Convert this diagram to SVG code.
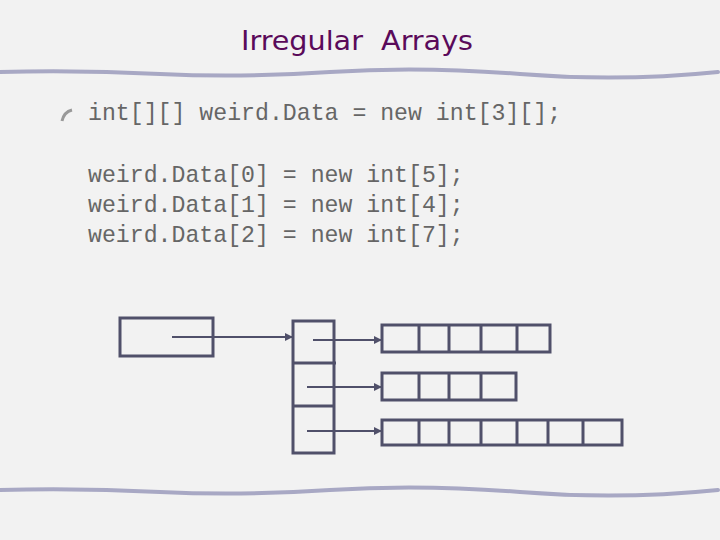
<svg xmlns="http://www.w3.org/2000/svg" width="720" height="540" viewBox="0 0 720 540">
<defs>
<style>
.b{fill:none;stroke:#50506a;stroke-width:3}
.c{stroke:#50506a;stroke-width:2;fill:none}
.code{font-family:"Liberation Mono",monospace;font-size:23.2px;fill:#666}
.rule{fill:none;stroke:#a8a8c4;stroke-width:4;stroke-linecap:round}
</style>
<marker id="a" markerWidth="8" markerHeight="8" refX="7" refY="4" orient="auto" markerUnits="userSpaceOnUse"><path d="M0,0 L8,4 L0,8z" fill="#50506a"/></marker>
</defs>
<rect width="720" height="540" fill="#f2f2f2"/>
<text x="357" y="50" text-anchor="middle" font-family="DejaVu Sans Condensed,DejaVu Sans,sans-serif" font-size="27" fill="#5a0a5a" textLength="232" lengthAdjust="spacingAndGlyphs" xml:space="preserve">Irregular  Arrays</text>
<path class="rule" d="M0,72 Q80,70 160,74 T330,72 T520,74 T718,72"/>
<path class="rule" d="M0,490 Q80,488 160,492 T330,490 T520,492 T718,490"/>
<path d="M62,121 Q64,112 72,110" stroke="#999" stroke-width="3" fill="none"/>
<text class="code" x="88" y="120">int[][] weird.Data = new int[3][];</text>
<text class="code" x="88" y="182">weird.Data[0] = new int[5];</text>
<text class="code" x="88" y="212">weird.Data[1] = new int[4];</text>
<text class="code" x="88" y="242">weird.Data[2] = new int[7];</text>
<g id="ref"><rect class="b" x="120" y="318" width="93" height="38"/></g>
<g id="outer"><rect class="b" x="293" y="321" width="41" height="132"/><path class="b" d="M293,363H336M293,406H334"/></g>
<g id="row0"><rect class="b" x="382" y="325" width="168" height="27"/><path class="b" d="M419,325V352M449,325V352M481,325V352M517,325V352"/></g>
<g id="row1"><rect class="b" x="382" y="373" width="134" height="27"/><path class="b" d="M419,373V400M449,373V400M481,373V400"/></g>
<g id="row2"><rect class="b" x="382" y="420" width="240" height="25"/><path class="b" d="M419,420V445M449,420V445M481,420V445M517,420V445M548,420V445M583,420V445"/></g>
<g id="connectors">
<line class="c" x1="172" y1="337" x2="292" y2="337" marker-end="url(#a)"/>
<line class="c" x1="313" y1="340" x2="381" y2="340" marker-end="url(#a)"/>
<line class="c" x1="307" y1="387" x2="381" y2="387" marker-end="url(#a)"/>
<line class="c" x1="307" y1="431" x2="381" y2="431" marker-end="url(#a)"/>
</g>
</svg>
